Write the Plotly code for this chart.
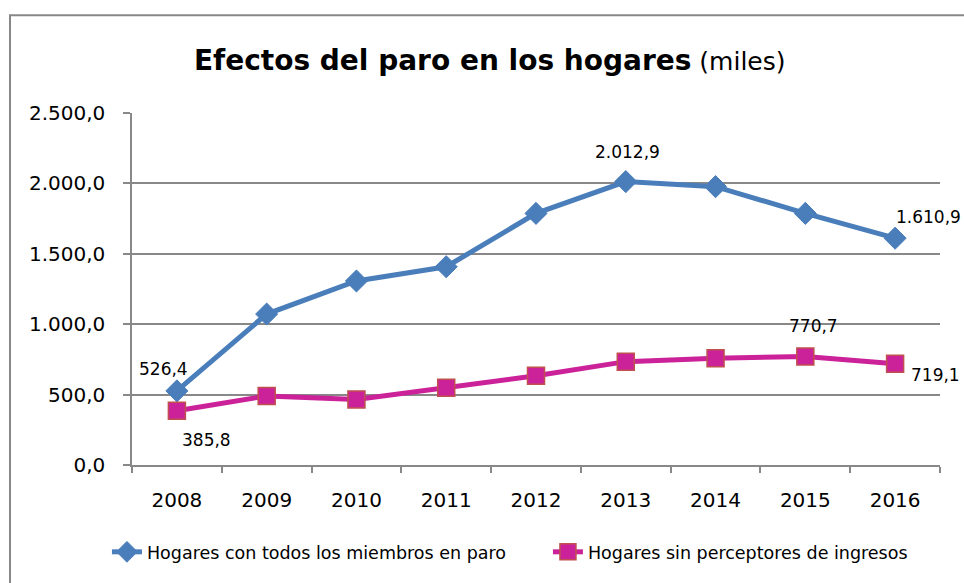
import plotly.graph_objects as go

years = ["2008", "2009", "2010", "2011", "2012", "2013", "2014", "2015", "2016"]
hogares_paro = [526.4, 1072, 1307, 1408, 1787, 2012.9, 1977, 1787, 1610.9]
hogares_sin_ingresos = [385.8, 490, 466, 549, 634, 734, 758, 770.7, 719.1]
y_ticks = [0, 500, 1000, 1500, 2000, 2500]

blue = "#4A7EBB"
magenta = "#CC2299"
grid = "#888888"
font_main = "DejaVu Sans"

fig = go.Figure()
fig.add_trace(go.Scatter(
    x=years, y=hogares_paro, mode="lines+markers",
    name="Hogares con todos los miembros en paro",
    line=dict(color=blue, width=5),
    marker=dict(symbol="diamond", size=17, color=blue, line=dict(color=blue, width=1)),
))
fig.add_trace(go.Scatter(
    x=years, y=hogares_sin_ingresos, mode="lines+markers",
    name="Hogares sin perceptores de ingresos",
    line=dict(color=magenta, width=5),
    marker=dict(symbol="square", size=17, color=magenta, line=dict(color="#C0504D", width=1.5)),
))

def fmt(v):
    s = f"{v:,.1f}"
    return s.replace(",", "X").replace(".", ",").replace("X", ".")

# (index, series, xshift, yshift, xanchor)
labels = [
    (0, hogares_paro, -13, 22, "center"),
    (5, hogares_paro, 2, 30, "center"),
    (8, hogares_paro, -1, 21, "left"),
    (0, hogares_sin_ingresos, 30, -29, "center"),
    (7, hogares_sin_ingresos, 8, 30, "center"),
    (8, hogares_sin_ingresos, 14, -11, "left"),
]
for i, series, xs, ys, xa in labels:
    fig.add_annotation(x=i, y=series[i], text=fmt(series[i]), showarrow=False,
                       xshift=xs, yshift=ys, xanchor=xa, yanchor="middle",
                       font=dict(family=font_main, size=17, color="#000000"))

fig.add_shape(type="rect", xref="paper", yref="paper",
              x0=-0.151, x1=1.2, y0=-0.6, y1=1.278,
              line=dict(color=grid, width=2), layer="below")

W, H = 964, 583
fig.update_layout(
    width=W, height=H,
    margin=dict(l=132, r=24, t=113, b=118, autoexpand=False),
    paper_bgcolor="white", plot_bgcolor="white",
    separators=",.",
    title=dict(text="<b>Efectos del paro en los hogares</b><span style='font-size:25px'> (miles)</span>",
               x=0.508, xanchor="center", y=1 - 60 / H, yanchor="middle",
               font=dict(family=font_main, size=28, color="#000000")),
    font=dict(family=font_main, color="#000000"),
    showlegend=True,
    legend=dict(orientation="h", x=-0.031, xanchor="left", y=-0.247, yanchor="middle",
                entrywidth=396, entrywidthmode="pixels",
                font=dict(family=font_main, size=17.5, color="#000000"),
                bgcolor="rgba(0,0,0,0)"),
    hovermode=False,
)
fig.update_xaxes(type="category", range=[-0.5, 8.5], showgrid=False, showline=True,
                 linecolor=grid, linewidth=1.5,
                 ticks="outside", tickson="boundaries", ticklen=6, tickcolor=grid, tickwidth=1.5,
                 tickangle=0,
                 tickfont=dict(family=font_main, size=20, color="#000000"), ticklabelstandoff=16)
fig.update_yaxes(range=[0, 2500], tickvals=y_ticks, tickformat=",.1f",
                 showgrid=True, gridcolor=grid, gridwidth=1.5,
                 showline=True, linecolor=grid, linewidth=1.5,
                 ticks="outside", ticklen=7, tickcolor=grid, tickwidth=1.5,
                 zeroline=False,
                 tickfont=dict(family=font_main, size=20, color="#000000"), ticklabelstandoff=14)

fig.write_html("out.html", config={"displayModeBar": False},
               post_script="document.body.style.margin='0px';document.body.style.overflow='hidden';")
